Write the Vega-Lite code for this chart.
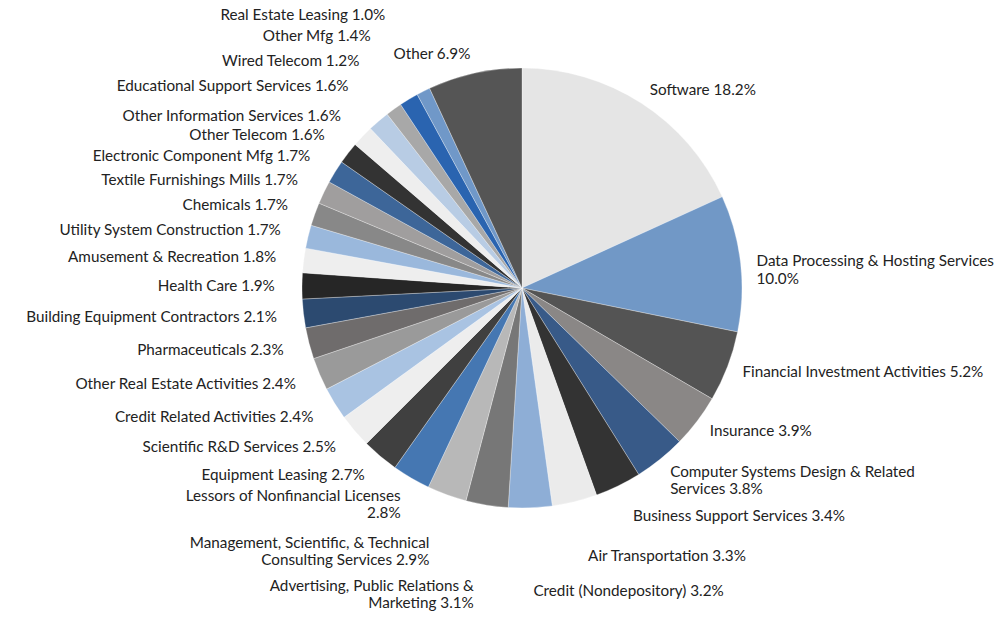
{
  "$schema": "https://vega.github.io/schema/vega-lite/v6.json",
  "width": 956,
  "height": 576,
  "autosize": {"type": "none"},
  "padding": {"left": 44, "top": 0, "right": 0, "bottom": 44},
  "background": "white",
  "config": {"view": {"stroke": null}},
  "data": {
    "values": [
      {"order": 1, "sector": "Software", "pct": 18.2, "label": "Software 18.2%"},
      {"order": 2, "sector": "Data Processing & Hosting Services", "pct": 10.0, "label": "Data Processing & Hosting Services\n10.0%"},
      {"order": 3, "sector": "Financial Investment Activities", "pct": 5.2, "label": "Financial Investment Activities 5.2%"},
      {"order": 4, "sector": "Insurance", "pct": 3.9, "label": "Insurance 3.9%"},
      {"order": 5, "sector": "Computer Systems Design & Related Services", "pct": 3.8, "label": "Computer Systems Design & Related\nServices 3.8%"},
      {"order": 6, "sector": "Business Support Services", "pct": 3.4, "label": "Business Support Services 3.4%"},
      {"order": 7, "sector": "Air Transportation", "pct": 3.3, "label": "Air Transportation 3.3%"},
      {"order": 8, "sector": "Credit (Nondepository)", "pct": 3.2, "label": "Credit (Nondepository) 3.2%"},
      {"order": 9, "sector": "Advertising, Public Relations & Marketing", "pct": 3.1, "label": "Advertising, Public Relations &\nMarketing 3.1%"},
      {"order": 10, "sector": "Management, Scientific, & Technical Consulting Services", "pct": 2.9, "label": "Management, Scientific, & Technical\nConsulting Services 2.9%"},
      {"order": 11, "sector": "Lessors of Nonfinancial Licenses", "pct": 2.8, "label": "Lessors of Nonfinancial Licenses\n2.8%"},
      {"order": 12, "sector": "Equipment Leasing", "pct": 2.7, "label": "Equipment Leasing 2.7%"},
      {"order": 13, "sector": "Scientific R&D Services", "pct": 2.5, "label": "Scientific R&D Services 2.5%"},
      {"order": 14, "sector": "Credit Related Activities", "pct": 2.4, "label": "Credit Related Activities 2.4%"},
      {"order": 15, "sector": "Other Real Estate Activities", "pct": 2.4, "label": "Other Real Estate Activities 2.4%"},
      {"order": 16, "sector": "Pharmaceuticals", "pct": 2.3, "label": "Pharmaceuticals 2.3%"},
      {"order": 17, "sector": "Building Equipment Contractors", "pct": 2.1, "label": "Building Equipment Contractors 2.1%"},
      {"order": 18, "sector": "Health Care", "pct": 1.9, "label": "Health Care 1.9%"},
      {"order": 19, "sector": "Amusement & Recreation", "pct": 1.8, "label": "Amusement & Recreation 1.8%"},
      {"order": 20, "sector": "Utility System Construction", "pct": 1.7, "label": "Utility System Construction 1.7%"},
      {"order": 21, "sector": "Chemicals", "pct": 1.7, "label": "Chemicals 1.7%"},
      {"order": 22, "sector": "Textile Furnishings Mills", "pct": 1.7, "label": "Textile Furnishings Mills 1.7%"},
      {"order": 23, "sector": "Electronic Component Mfg", "pct": 1.7, "label": "Electronic Component Mfg 1.7%"},
      {"order": 24, "sector": "Other Telecom", "pct": 1.6, "label": "Other Telecom 1.6%"},
      {"order": 25, "sector": "Other Information Services", "pct": 1.6, "label": "Other Information Services  1.6%"},
      {"order": 26, "sector": "Educational Support Services", "pct": 1.6, "label": "Educational Support Services 1.6%"},
      {"order": 27, "sector": "Wired Telecom", "pct": 1.2, "label": "Wired Telecom 1.2%"},
      {"order": 28, "sector": "Other Mfg", "pct": 1.4, "label": "Other Mfg 1.4%"},
      {"order": 29, "sector": "Real Estate Leasing", "pct": 1.0, "label": "Real Estate Leasing 1.0%"},
      {"order": 30, "sector": "Other", "pct": 6.9, "label": "Other 6.9%"}
    ]
  },
  "encoding": {
    "theta": {"field": "pct", "type": "quantitative", "stack": true},
    "order": {"field": "order", "type": "quantitative"}
  },
  "layer": [
    {
      "mark": {"type": "arc", "outerRadius": 220, "stroke": "#ffffff", "strokeWidth": 0.3},
      "encoding": {
        "color": {
          "field": "sector",
          "type": "nominal",
          "legend": null,
          "scale": {
            "domain": ["Software", "Data Processing & Hosting Services", "Financial Investment Activities", "Insurance", "Computer Systems Design & Related Services", "Business Support Services", "Air Transportation", "Credit (Nondepository)", "Advertising, Public Relations & Marketing", "Management, Scientific, & Technical Consulting Services", "Lessors of Nonfinancial Licenses", "Equipment Leasing", "Scientific R&D Services", "Credit Related Activities", "Other Real Estate Activities", "Pharmaceuticals", "Building Equipment Contractors", "Health Care", "Amusement & Recreation", "Utility System Construction", "Chemicals", "Textile Furnishings Mills", "Electronic Component Mfg", "Other Telecom", "Other Information Services", "Educational Support Services", "Wired Telecom", "Other Mfg", "Real Estate Leasing", "Other"],
            "range": ["#e5e5e5", "#7198c6", "#545454", "#8a8786", "#385a88", "#333333", "#ebebeb", "#8eaed6", "#777777", "#b8b8b8", "#4577b2", "#404040", "#eeeeee", "#a9c3e2", "#9a9a9a", "#6f6c6c", "#2c4a70", "#262626", "#eeeeee", "#9ab8dc", "#888888", "#a09e9e", "#3d6699", "#333333", "#eeeeee", "#b8cce4", "#a8a8a8", "#2a64b0", "#7098c8", "#555555"]
          }
        }
      }
    },
    {
      "mark": {"type": "text", "align": "left", "baseline": "middle", "font": "Lato", "fontSize": 15.25, "color": "#222222", "lineBreak": "\n"},
      "encoding": {
        "radius": {"field": "pct_end", "type": "quantitative", "scale": {"type": "linear", "zero": false, "domain": [0, 30, 41.1, 44.5, 47.8, 51, 54.1, 59.8, 62.5, 88, 93.1, 100], "range": [236, 236, 236, 254, 276, 303, 302, 241, 244, 250, 305, 240]}},
        "text": {"condition": {"test": {"field": "order", "gt": 8}, "value": ""}, "field": "label", "type": "nominal"}
      }
    },
    {
      "mark": {"type": "text", "align": "right", "baseline": "middle", "font": "Lato", "fontSize": 15.25, "color": "#222222", "lineBreak": "\n"},
      "encoding": {
        "radius": {"field": "pct_end", "type": "quantitative", "scale": {"type": "linear", "zero": false, "domain": [0, 30, 41.1, 44.5, 47.8, 51, 54.1, 59.8, 62.5, 88, 93.1, 100], "range": [236, 236, 236, 254, 276, 303, 302, 241, 244, 250, 305, 240]}},
        "text": {"condition": {"test": {"field": "order", "lte": 8}, "value": ""}, "field": "label", "type": "nominal"}
      }
    }
  ]
}
